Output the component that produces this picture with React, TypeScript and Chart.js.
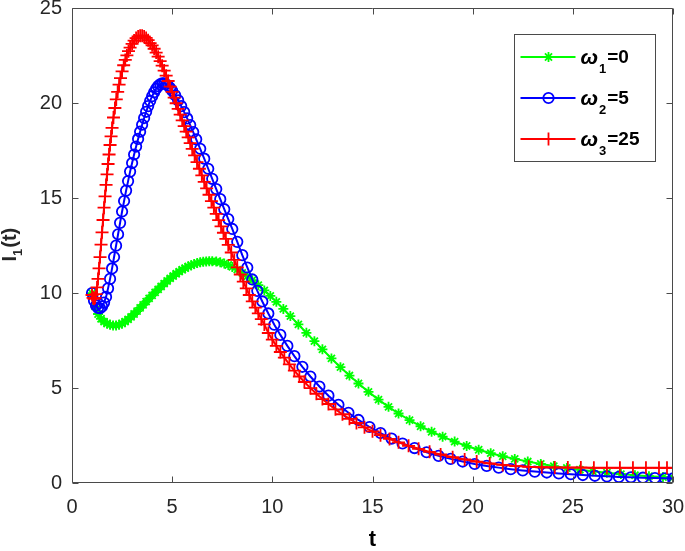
import React, { useEffect, useRef } from 'react';
import { Chart, registerables } from 'chart.js';
import { drawPoint } from 'chart.js/helpers';

Chart.register(...registerables);

// ---------- data ----------
const tGreen = [1.0,1.15,1.3,1.45,1.6,1.75,1.9,2.05,2.2,2.35,2.5,2.65,2.8,2.95,3.1,3.25,3.4,3.55,3.7,3.85,4.0,4.15,4.3,4.45,4.6,4.75,4.9,5.05,5.2,5.35,5.5,5.65,5.8,5.95,6.1,6.25,6.4,6.55,6.7,6.85,7.0,7.2,7.4,7.6,7.8,8.0,8.25,8.5,8.75,9.0,9.3,9.6,9.9,10.2,10.55,10.9,11.3,11.7,12.1,12.5,12.95,13.4,13.85,14.3,14.8,15.3,15.8,16.3,16.85,17.4,17.95,18.5,19.1,19.7,20.3,20.9,21.5,22.1,22.75,23.4,24.05,24.7,25.35,26.0,26.7,27.4,28.1,28.8,29.5,30.0];
const iGreen = [10.0,9.3,8.9,8.65,8.5,8.4,8.33,8.3,8.3,8.33,8.4,8.5,8.62,8.75,8.9,9.05,9.22,9.38,9.55,9.72,9.88,10.04,10.2,10.35,10.5,10.64,10.78,10.9,11.02,11.13,11.23,11.32,11.4,11.47,11.53,11.58,11.62,11.65,11.67,11.68,11.68,11.66,11.62,11.56,11.48,11.38,11.24,11.07,10.88,10.68,10.42,10.14,9.85,9.54,9.17,8.79,8.35,7.91,7.47,7.04,6.56,6.1,5.66,5.24,4.8,4.39,4.01,3.66,3.31,2.99,2.7,2.44,2.18,1.95,1.75,1.57,1.41,1.27,1.13,1.0,0.89,0.79,0.7,0.62,0.54,0.47,0.41,0.36,0.31,0.29];

const tBlue = [1.0,1.1,1.2,1.3,1.4,1.5,1.6,1.7,1.8,1.9,2.0,2.1,2.2,2.3,2.4,2.5,2.6,2.7,2.8,2.9,3.0,3.1,3.2,3.3,3.4,3.5,3.6,3.7,3.8,3.9,4.0,4.1,4.2,4.3,4.4,4.5,4.6,4.7,4.8,4.9,5.0,5.15,5.3,5.45,5.6,5.75,5.9,6.05,6.2,6.4,6.6,6.8,7.0,7.2,7.4,7.6,7.8,8.0,8.25,8.5,8.75,9.0,9.25,9.5,9.8,10.1,10.4,10.75,11.1,11.5,11.9,12.35,12.8,13.3,13.8,14.3,14.85,15.4,15.95,16.5,17.1,17.7,18.3,18.9,19.5,20.1,20.7,21.3,21.9,22.5,23.1,23.7,24.3,24.9,25.5,26.1,26.7,27.3,27.9,28.5,29.1,29.6,30.0];
const iBlue = [10.0,9.6,9.35,9.22,9.2,9.3,9.5,9.8,10.25,10.75,11.3,11.9,12.5,13.1,13.7,14.3,14.85,15.4,15.9,16.4,16.85,17.3,17.72,18.12,18.5,18.87,19.22,19.55,19.85,20.12,20.37,20.58,20.76,20.9,21.0,21.05,21.05,21.0,20.92,20.8,20.66,20.42,20.15,19.85,19.53,19.2,18.85,18.48,18.1,17.6,17.08,16.55,16.02,15.48,14.95,14.42,13.9,13.38,12.7,12.0,11.35,10.72,10.12,9.56,8.93,8.34,7.8,7.22,6.68,6.12,5.61,5.08,4.6,4.12,3.7,3.32,2.95,2.63,2.34,2.08,1.84,1.62,1.43,1.27,1.13,1.0,0.9,0.81,0.73,0.66,0.6,0.55,0.5,0.46,0.42,0.38,0.35,0.32,0.3,0.28,0.26,0.25,0.24];

const tRed = [1.0,1.05,1.1,1.15,1.2,1.25,1.3,1.35,1.4,1.45,1.5,1.55,1.6,1.65,1.7,1.75,1.8,1.85,1.9,1.95,2.0,2.07,2.14,2.21,2.28,2.35,2.42,2.5,2.58,2.66,2.74,2.82,2.9,3.0,3.1,3.2,3.3,3.4,3.5,3.6,3.7,3.8,3.9,4.0,4.1,4.2,4.3,4.4,4.5,4.6,4.7,4.8,4.9,5.0,5.1,5.2,5.3,5.4,5.5,5.6,5.7,5.8,5.9,6.0,6.12,6.24,6.36,6.48,6.6,6.72,6.84,6.96,7.08,7.2,7.32,7.44,7.56,7.68,7.8,7.95,8.1,8.25,8.4,8.55,8.7,8.85,9.0,9.15,9.3,9.45,9.6,9.8,10.0,10.2,10.4,10.6,10.85,11.1,11.35,11.6,11.9,12.2,12.5,12.8,13.15,13.5,13.85,14.2,14.6,15.0,15.4,15.85,16.3,16.8,17.3,17.85,18.4,19.0,19.6,20.2,20.85,21.5,22.15,22.8,23.45,24.1,24.75,25.4,26.05,26.7,27.35,28.0,28.65,29.3,29.7,30.0];
const iRed = [9.9,9.75,9.7,9.75,9.95,10.3,10.75,11.3,11.9,12.55,13.2,13.85,14.5,15.1,15.7,16.25,16.8,17.3,17.8,18.25,18.7,19.25,19.75,20.2,20.6,20.98,21.32,21.68,22.0,22.28,22.52,22.74,22.93,23.13,23.3,23.43,23.52,23.56,23.56,23.52,23.44,23.32,23.17,23.05,22.87,22.67,22.45,22.22,21.98,21.72,21.45,21.17,20.88,20.6,20.3,20.0,19.7,19.4,19.1,18.8,18.5,18.2,17.9,17.6,17.25,16.9,16.55,16.2,15.86,15.52,15.18,14.84,14.5,14.17,13.84,13.51,13.18,12.86,12.54,12.14,11.75,11.36,10.98,10.61,10.25,9.9,9.56,9.24,8.93,8.63,8.35,7.9,7.55,7.22,6.9,6.6,6.25,5.92,5.61,5.32,5.0,4.7,4.42,4.16,3.88,3.62,3.38,3.16,2.93,2.72,2.52,2.32,2.14,1.96,1.8,1.64,1.5,1.36,1.24,1.13,1.03,0.95,0.89,0.85,0.83,0.82,0.81,0.81,0.8,0.8,0.8,0.8,0.8,0.8,0.8,0.8];

const xTicks = [0, 5, 10, 15, 20, 25, 30];
const yTicks = [0, 5, 10, 15, 20, 25];
const seriesLabels = ['ω₁=0', 'ω₂=5', 'ω₃=25'];
const legendSymbol = ['ω', 'ω', 'ω'];
const legendSub = ['1', '2', '3'];
const legendRest = ['=0', '=5', '=25'];
const xTitle = 't';
const yTitleMain = 'I';
const yTitleSub = '1';
const yTitleRest = '(t)';

const FONT = '"Liberation Sans", Arial, Helvetica, sans-serif';
const AXIS_COLOR = '#4a4a4a';
const TEXT_COLOR = '#262626';

const GREEN = '#00ff00';
const BLUE = '#0000ff';
const RED = '#ff0000';

const toPts = (ts: number[], vs: number[]) => ts.map((t, i) => ({ x: t, y: vs[i] }));

const boxPlugin = {
  id: 'boxTicks',
  afterDatasetsDraw(chart: any) {
    const { ctx, chartArea: a, scales } = chart;
    const L = Math.round(a.left) + 0.5;
    const R = Math.round(a.right) - 0.5;
    const T = Math.round(a.top) + 0.5;
    const B = Math.round(a.bottom) - 0.5;
    ctx.save();
    ctx.strokeStyle = AXIS_COLOR;
    ctx.lineWidth = 1;
    ctx.beginPath();
    ctx.rect(L, T, R - L, B - T);
    const tl = 6;
    xTicks.forEach((v) => {
      const px = Math.round(scales.x.getPixelForValue(v)) + 0.5;
      ctx.moveTo(px, B); ctx.lineTo(px, B - tl);
      ctx.moveTo(px, T); ctx.lineTo(px, T + tl);
    });
    yTicks.forEach((v) => {
      const py = Math.round(scales.y.getPixelForValue(v)) + 0.5;
      ctx.moveTo(L, py); ctx.lineTo(L + tl, py);
      ctx.moveTo(R, py); ctx.lineTo(R - tl, py);
    });
    ctx.stroke();

    // y-axis title with subscript
    ctx.fillStyle = TEXT_COLOR;
    ctx.textBaseline = 'alphabetic';
    ctx.textAlign = 'left';
    const mainFont = `bold 20px ${FONT}`;
    const subFont = `bold 13px ${FONT}`;
    ctx.font = mainFont;
    const w1 = ctx.measureText(yTitleMain).width;
    const w3 = ctx.measureText(yTitleRest).width;
    ctx.font = subFont;
    const w2 = ctx.measureText(yTitleSub).width;
    const total = w1 + w2 + w3 + 1;
    const cy = (a.top + a.bottom) / 2 - 1;
    ctx.translate(16, cy);
    ctx.rotate(-Math.PI / 2);
    let x = -total / 2;
    ctx.font = mainFont;
    ctx.fillText(yTitleMain, x, 0);
    x += w1;
    ctx.font = subFont;
    ctx.fillText(yTitleSub, x, 6);
    x += w2 + 1;
    ctx.font = mainFont;
    ctx.fillText(yTitleRest, x, 0);
    ctx.restore();
  },
};

const legendPlugin = {
  id: 'matlabLegend',
  afterDraw(chart: any) {
    const { ctx, chartArea: a } = chart;
    const bx = Math.round(a.right) - 159 + 0.5;
    const by = Math.round(a.top) + 26 + 0.5;
    const bw = 141;
    const bh = 127;
    ctx.save();
    ctx.fillStyle = '#ffffff';
    ctx.fillRect(bx, by, bw, bh);
    ctx.strokeStyle = AXIS_COLOR;
    ctx.lineWidth = 1;
    ctx.strokeRect(bx, by, bw, bh);
    const rowsY = [22, 63, 104];
    const order = [0, 1, 2];
    order.forEach((i) => {
      const ds = chart.data.datasets[i];
      const y = Math.round(by + rowsY[i]);
      ctx.strokeStyle = ds.borderColor;
      ctx.lineWidth = ds.borderWidth;
      ctx.beginPath();
      ctx.moveTo(bx + 6, y);
      ctx.lineTo(bx + 61, y);
      ctx.stroke();
      ctx.fillStyle = 'rgba(0,0,0,0)';
      ctx.lineWidth = ds.pointBorderWidth;
      drawPoint(ctx, { pointStyle: ds.pointStyle, radius: ds.pointRadius, rotation: 0, borderWidth: ds.pointBorderWidth }, bx + 34, y);

      // text
      ctx.fillStyle = '#000000';
      ctx.textAlign = 'left';
      ctx.textBaseline = 'alphabetic';
      let x = bx + 66;
      ctx.font = `italic bold 21px ${FONT}`;
      ctx.fillText(legendSymbol[i], x, y + 7);
      x += ctx.measureText(legendSymbol[i]).width + 1;
      ctx.font = `bold 13px ${FONT}`;
      ctx.fillText(legendSub[i], x, y + 16);
      x += ctx.measureText(legendSub[i]).width + 1;
      ctx.font = `bold 19px ${FONT}`;
      ctx.fillText(legendRest[i], x, y + 6);
    });
    ctx.restore();
  },
};

export default function App() {
  const ref = useRef<HTMLCanvasElement | null>(null);

  useEffect(() => {
    if (!ref.current) return;
    const chart = new Chart(ref.current, {
      type: 'line',
      data: {
        datasets: [
          {
            label: seriesLabels[0],
            data: toPts(tGreen, iGreen),
            borderColor: GREEN,
            backgroundColor: 'rgba(0,0,0,0)',
            borderWidth: 2,
            pointStyle: 'star',
            pointRadius: 5,
            pointBorderWidth: 1.8,
            pointBorderColor: GREEN,
            pointBackgroundColor: 'rgba(0,0,0,0)',
            tension: 0,
            order: 3,
          },
          {
            label: seriesLabels[1],
            data: toPts(tBlue, iBlue),
            borderColor: BLUE,
            backgroundColor: 'rgba(0,0,0,0)',
            borderWidth: 2,
            pointStyle: 'circle',
            pointRadius: 5.2,
            pointBorderWidth: 1.8,
            pointBorderColor: BLUE,
            pointBackgroundColor: 'rgba(0,0,0,0)',
            tension: 0,
            order: 2,
          },
          {
            label: seriesLabels[2],
            data: toPts(tRed, iRed),
            borderColor: RED,
            backgroundColor: 'rgba(0,0,0,0)',
            borderWidth: 2,
            pointStyle: 'cross',
            pointRadius: 6.5,
            pointBorderWidth: 1.8,
            pointBorderColor: RED,
            pointBackgroundColor: 'rgba(0,0,0,0)',
            tension: 0,
            order: 1,
          },
        ],
      },
      options: {
        animation: false,
        responsive: false,
        devicePixelRatio: 1,
        events: [],
        layout: { padding: { top: 7, right: 12, left: 0, bottom: 0 } },
        plugins: {
          legend: { display: false },
          tooltip: { enabled: false },
          title: { display: false },
        },
        scales: {
          x: {
            type: 'linear',
            min: 0,
            max: 30,
            afterBuildTicks: (s: any) => { s.ticks = xTicks.map((v) => ({ value: v })); },
            ticks: {
              autoSkip: false,
              maxRotation: 0,
              padding: 12,
              color: TEXT_COLOR,
              font: { family: FONT, size: 20, lineHeight: 1.2 },
            },
            grid: { display: false, drawTicks: false },
            border: { display: false },
            title: {
              display: true,
              text: xTitle,
              color: '#000000',
              font: { family: FONT, size: 22, weight: 'bold', lineHeight: 1 },
              padding: { top: 0, bottom: 0 },
            },
            afterFit: (s: any) => { s.height = 68; s.paddingLeft = 0; s.paddingRight = 0; },
          },
          y: {
            type: 'linear',
            min: 0,
            max: 25,
            afterBuildTicks: (s: any) => { s.ticks = yTicks.map((v) => ({ value: v })); },
            ticks: {
              autoSkip: false,
              padding: 10,
              color: TEXT_COLOR,
              font: { family: FONT, size: 20, lineHeight: 1.2 },
            },
            grid: { display: false, drawTicks: false },
            border: { display: false },
            title: { display: false },
            afterFit: (s: any) => { s.width = 72; s.paddingTop = 0; s.paddingBottom = 0; },
          },
        },
      },
      plugins: [boxPlugin, legendPlugin],
    } as any);
    return () => chart.destroy();
  }, []);

  return (
    <div style={{ position: 'absolute', left: 0, top: 0, width: 685, height: 551, background: '#fff' }}>
      <canvas ref={ref} width={685} height={551} style={{ width: 685, height: 551, display: 'block' }} />
    </div>
  );
}
